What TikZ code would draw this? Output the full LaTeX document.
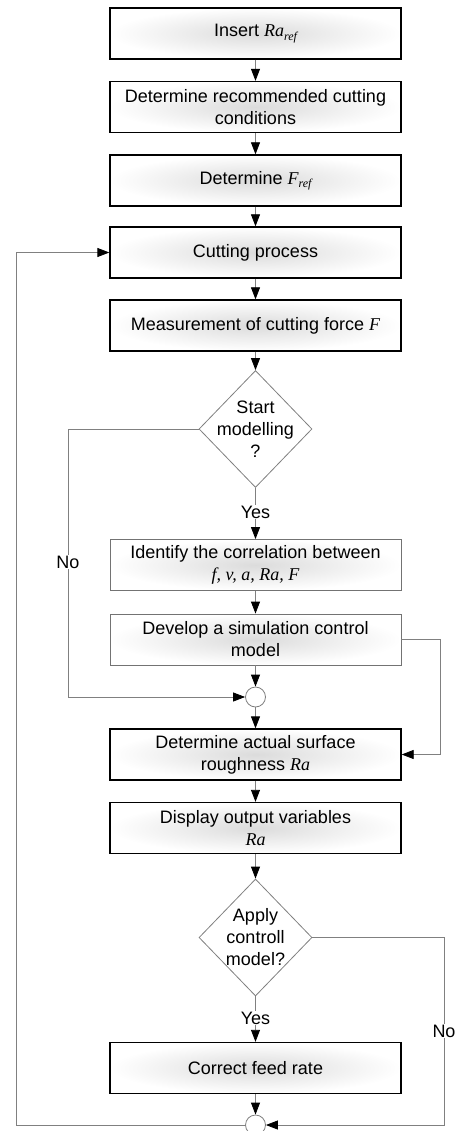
\documentclass[tikz,border=0pt]{standalone}
\usepackage{fontspec}
\setmainfont{Liberation Sans}
\newfontfamily\timesf{Liberation Serif}
\usetikzlibrary{shapes.geometric,arrows.meta}
\newcommand{\vi}[1]{{\timesf\itshape #1}}
\newcommand{\rf}{\raisebox{-0.35ex}{\fontsize{12}{12}\selectfont\timesf\itshape ref}}
\begin{document}
\begin{tikzpicture}[x=1pt,y=-1pt,
  txt/.style={font=\fontsize{18}{22}\selectfont},
  mainbox/.style={txt, draw=black, line width=1.3pt, shade, inner color=black!14, outer color=white,
    minimum width=291pt, minimum height=51pt, inner sep=0pt, align=center},
  graybox/.style={mainbox, draw=black!55, line width=0.8pt},
  dia/.style={diamond, draw=black!50, line width=0.8pt, fill=white, minimum width=113pt,
    minimum height=117pt, inner sep=0pt, aspect=0.97},
  junc/.style={circle, draw=black!50, line width=0.8pt, fill=white, minimum size=20pt, inner sep=0pt},
  conn/.style={draw=black!50, line width=0.8pt},
  arr/.style={conn, -{Triangle[length=12pt,width=9pt,color=black]}},
  lbl/.style={txt, fill=white, inner sep=1pt}]
\useasboundingbox (0,0) rectangle (457,1131);
\node[mainbox] (b1) at (255.5,33.5) {Insert \vi{Ra}\rf};
\node[mainbox] (b2) at (255.5,107) {Determine recommended cutting\\conditions};
\node[mainbox] (b3) at (255.5,180.5) {Determine \vi{F}\rf};
\node[mainbox] (b4) at (255.5,252.5) {Cutting process};
\node[mainbox] (b5) at (255.5,325.5) {Measurement of cutting force \vi{F}};
\node[dia] (d1) at (255.5,429) {};
\node[txt, align=center] (t1) at (d1) {Start\\modelling\\?};
\node[graybox] (b6) at (255.5,565) {Identify the correlation between\\\vi{f, v, a, Ra, F}};
\node[graybox] (b7) at (255.5,639.5) {Develop a simulation control\\model};
\node[junc] (c1) at (255.5,697) {};
\node[mainbox] (b8) at (255.5,754.5) {Determine actual surface\\roughness \vi{Ra}};
\node[mainbox] (b9) at (255.5,828) {Display output variables\\\vi{Ra}};
\node[dia] (d2) at (255.5,937.5) {};
\node[txt, align=center] (t2) at (d2) {Apply\\controll\\model?};
\node[mainbox] (b10) at (255.5,1068) {Correct feed rate};
\node[junc] (c2) at (255.5,1125) {};

\draw[arr] (b1) -- (b2);
\draw[arr] (b2) -- (b3);
\draw[arr] (b3) -- (b4);
\draw[arr] (b4) -- (b5);
\draw[arr] (b5) -- (d1);
\draw[arr] (d1) -- (b6);
\draw[arr] (b6) -- (b7);
\draw[arr] (b7) -- (c1);
\draw[arr] (c1) -- (b8);
\draw[arr] (b8) -- (b9);
\draw[arr] (b9) -- (d2);
\draw[arr] (d2) -- (b10);
\draw[arr] (b10) -- (c2);

\coordinate (nl) at (68,697);
\draw[arr] (d1.west) -| (nl) -- (c1.west);
\coordinate (r1) at (440,639.5);
\coordinate (r2) at (440,754.5);
\draw[arr] (b7.east) -- (r1) -- (r2) -- (b8.east);
\coordinate (r3) at (444,937.5);
\coordinate (r4) at (444,1125);
\draw[arr] (d2.east) -- (r3) -- (r4) -- (c2.east);
\coordinate (l1) at (16,1125);
\coordinate (l2) at (16,252.5);
\draw[arr] (c2.west) -- (l1) -- (l2) -- (b4.west);

\node[lbl] (no1) at (68,562) {No};
\node[lbl] (y1) at (255.5,512) {Yes};
\node[lbl] (y2) at (255.5,1018) {Yes};
\node[lbl] (no2) at (444,1031) {No};
\end{tikzpicture}
\end{document}
